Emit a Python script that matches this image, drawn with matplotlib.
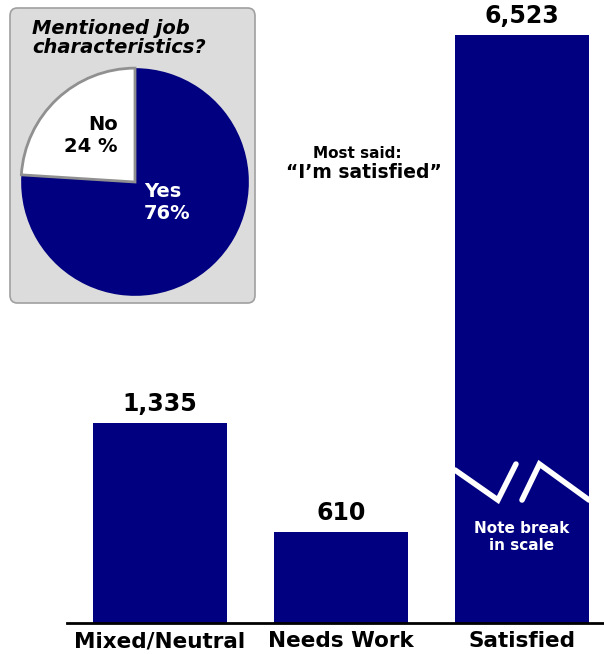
import numpy as np
import matplotlib
matplotlib.use("Agg")
import matplotlib.pyplot as plt
from matplotlib.patches import FancyBboxPatch

# datos
categorias = ["Mixed/Neutral", "Needs Work", "Satisfied"]
valores = [1335, 610, 6523]
etiquetas = ["1,335", "610", "6,523"]
pie_valores = [76, 24]
pie_etiquetas = ["Yes\n76%", "No\n24 %"]

azul = "#000080"
ancho = 0.74
ytop = 3925  # escala cortada: la barra Satisfied queda recortada

fig = plt.figure(figsize=(6.04, 6.54), dpi=100)

# grafico de barras principal
ax = fig.add_axes([67/604, 1-623/654, 537/604, 588/654])
ax.set_facecolor("none")
x = np.arange(len(categorias))
ax.bar(x, valores, ancho, color=azul, clip_on=True)
ax.set_xlim(-0.514, 2.453)
ax.set_ylim(0, ytop)
for s in ["top", "right", "left"]:
    ax.spines[s].set_visible(False)
ax.spines["bottom"].set_linewidth(2)
ax.spines["bottom"].set_color("black")
ax.set_yticks([])
ax.set_xticks(x)
ax.set_xticklabels(categorias, fontsize=15.5, fontweight="bold")
ax.tick_params(axis="x", length=0, pad=6)

for i in range(len(valores)):
    y = min(valores[i], ytop)
    ax.annotate(etiquetas[i], (x[i], y), xytext=(0, 5), textcoords="offset points",
                ha="center", va="bottom", fontsize=17, fontweight="bold",
                annotation_clip=False)

# marca de corte en la barra Satisfied
b = x[2] - ancho/2
def px(f):
    return b + f*ancho
ax.plot([px(0.0), px(0.32), px(0.455)], [1021, 821, 1061], color="white", lw=4,
        solid_capstyle="round", solid_joinstyle="miter")
ax.plot([px(0.5), px(0.63), px(1.0)], [821, 1061, 821], color="white", lw=4,
        solid_capstyle="round", solid_joinstyle="miter")
ax.text(x[2], 574, "Note break\nin scale", color="white", fontsize=11,
        fontweight="bold", ha="center", va="center", linespacing=1.1)

# comentario
fig.text(357/604, 1-153/654, "Most said:", fontsize=11, fontweight="bold",
         ha="center", va="center")
fig.text(364/604, 1-172/654, "\u201cI\u2019m satisfied\u201d", fontsize=13.5,
         fontweight="bold", ha="center", va="center")

# recuadro del pie
caja = FancyBboxPatch((10/604, 1-303/654), 245/604, 295/654,
                      boxstyle="round,pad=0,rounding_size=0.012",
                      transform=fig.transFigure, facecolor="#DCDCDC",
                      edgecolor="#A0A0A0", lw=1.2, zorder=-1)
fig.patches.append(caja)
fig.text(32/604, 1-19/654, "Mentioned job\ncharacteristics?", fontsize=14,
         fontweight="bold", fontstyle="italic", ha="left", va="top",
         linespacing=1.0)

axp = fig.add_axes([20/604, 1-297/654, 230/604, 230/654])
wedges, _ = axp.pie(pie_valores, startangle=90, counterclock=False,
                    colors=[azul, "white"])
wedges[1].set_edgecolor("#909090")
wedges[1].set_linewidth(2)
axp.set_xlim(-1.01, 1.01)
axp.set_ylim(-1.01, 1.01)
axp.set_aspect("equal")
axp.axis("off")
axp.text(0.08, -0.18, pie_etiquetas[0], color="white", fontsize=14,
         fontweight="bold", ha="left", va="center", linespacing=1.2)
axp.text(-0.15, 0.41, pie_etiquetas[1], color="black", fontsize=14,
         fontweight="bold", ha="right", va="center", linespacing=1.2)

fig.savefig("out.png", dpi=100)
